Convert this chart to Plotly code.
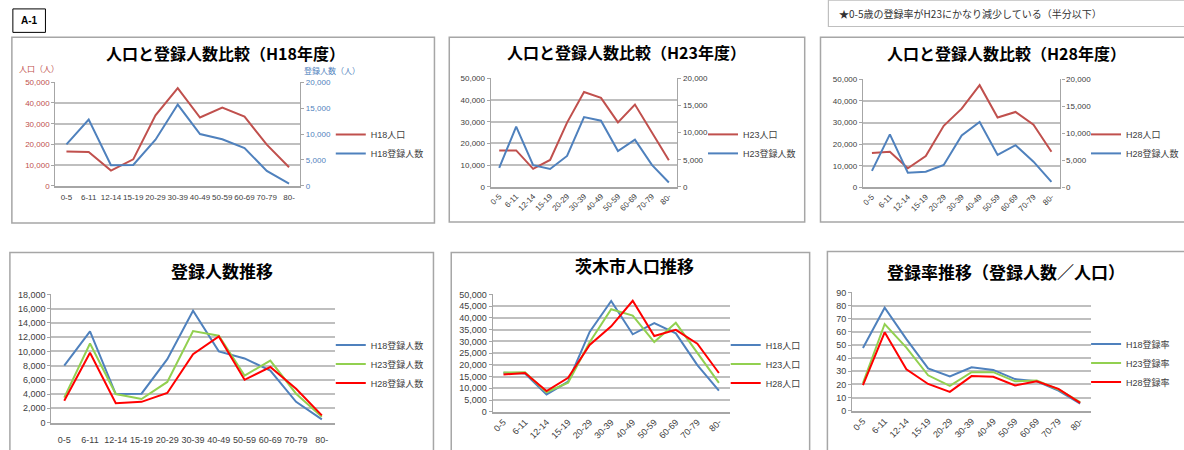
import plotly.graph_objects as go

W, H = 1184, 450

ages = ["0-5", "6-11", "12-14", "15-19", "20-29", "30-39", "40-49", "50-59", "60-69", "70-79", "80-"]

pop_h18 = [16600, 16300, 7400, 12800, 34000, 47200, 33000, 37800, 33400, 19900, 9000]
pop_h23 = [16700, 16800, 8300, 12400, 29600, 43700, 41000, 29700, 37900, 25000, 12300]
pop_h28 = [15900, 16500, 8800, 14500, 28500, 36400, 47300, 32300, 34900, 29000, 16500]

reg_h18 = [8000, 12800, 4000, 4050, 8900, 15700, 10000, 9000, 7300, 2900, 450]
reg_h23 = [3500, 11100, 4000, 3300, 5700, 12850, 12200, 6600, 8700, 4050, 800]
reg_h28 = [3050, 9800, 2700, 2900, 4150, 9600, 12100, 6000, 7800, 4750, 1000]

rate_h18 = [47.8, 78.4, 54.5, 32.3, 26.1, 33.1, 31.1, 24.1, 22.4, 15.4, 5.5]
rate_h23 = [21.0, 66.0, 48.0, 27.0, 19.0, 29.4, 29.4, 22.4, 23.0, 16.2, 6.5]
rate_h28 = [19.5, 59.7, 31.6, 20.4, 14.4, 26.4, 25.9, 19.2, 22.4, 16.7, 6.0]

RED_D = "#C0504D"
BLUE = "#4F81BD"
GREEN = "#92D050"
RED = "#FF0000"
GRID = "#BFBFBF"
LINEC = "#A6A6A6"
TXT = "#404040"
FONT = "Liberation Sans, Noto Sans CJK JP"
JFONT = "Noto Sans CJK JP"


def px(x):
    return x / W


def py(y):
    return 1 - y / H


fig = go.Figure()
layout = {}

# panel geometry: (x0, x1, ytop, ybottom)
panels = {
    1: (54, 302, 79, 185),
    2: (495, 684, 75, 186),
    3: (872, 1072, 76, 186.5),
    4: (50, 337, 296, 427),
    5: (497, 737, 296, 416),
    6: (861, 1103, 294, 415),
}


def add_axes(i, yrange, dtick, tickangle, fs, tickcolor=TXT, y2=None, standoff=0):
    x0, x1, yt, yb = panels[i]
    xname = "xaxis" if i == 1 else f"xaxis{i}"
    yname = "yaxis" if i == 1 else f"yaxis{i}"
    layout[xname] = dict(
        domain=[px(x0), px(x1)], anchor=f"y{i}" if i > 1 else "y",
        type="category", range=[-0.5, 10.5], showgrid=False,
        showline=True, linecolor=LINEC, linewidth=1.5, ticks="",
        tickangle=tickangle, tickfont=dict(family=FONT, size=fs, color=TXT),
        ticklabelstandoff=standoff, fixedrange=True,
    )
    layout[yname] = dict(
        domain=[py(yb), py(yt)], anchor=f"x{i}" if i > 1 else "x",
        range=yrange, dtick=dtick, tickformat=",d", showgrid=True,
        gridcolor=GRID, gridwidth=1.6, zeroline=False, showline=True,
        linecolor=LINEC, linewidth=1.2, ticks="outside", ticklen=3,
        tickcolor=LINEC, tickfont=dict(family=FONT, size=fs, color=tickcolor),
        fixedrange=True,
    )
    if y2 is not None:
        rng, dt, col = y2
        layout[f"yaxis{6 + i}"] = dict(
            domain=[py(yb), py(yt)], anchor=f"x{i}" if i > 1 else "x",
            overlaying=f"y{i}" if i > 1 else "y", side="right",
            range=rng, dtick=dt, tickformat=",d", showgrid=False,
            zeroline=False, showline=True, linecolor=LINEC, linewidth=1.2,
            ticks="outside", ticklen=3, tickcolor=LINEC,
            tickfont=dict(family=FONT, size=fs, color=col), fixedrange=True,
        )


def add_legend(i, text_x, mid_y, n):
    name = "legend" if i == 1 else f"legend{i}"
    first_center = mid_y - (n - 1) * 10
    layout[name] = dict(
        x=px(text_x - 40), y=py(first_center - 16), xanchor="left", yanchor="top",
        bgcolor="rgba(0,0,0,0)", borderwidth=0, tracegroupgap=0,
        font=dict(family=FONT, size=9, color=TXT), itemwidth=30,
    )
    return name


def line(i, y, name, color, legend, secondary=False):
    xa = "x" if i == 1 else f"x{i}"
    if secondary:
        ya = f"y{6 + i}"
    else:
        ya = "y" if i == 1 else f"y{i}"
    fig.add_trace(go.Scatter(
        x=ages, y=y, name=name, mode="lines", xaxis=xa, yaxis=ya,
        line=dict(color=color, width=2), legend=legend,
    ))


# top row
add_axes(1, [0, 50000], 10000, 0, 8, tickcolor=RED_D, y2=([0, 20000], 5000, BLUE), standoff=3)
add_axes(2, [0, 50000], 10000, -45, 8, y2=([0, 20000], 5000, TXT))
add_axes(3, [0, 50000], 10000, -45, 8, y2=([0, 20000], 5000, TXT))
lg1 = add_legend(1, 373, 143.5, 2)
lg2 = add_legend(2, 750, 143.5, 2)
lg3 = add_legend(3, 1138, 143.5, 2)
line(1, pop_h18, "H18人口", RED_D, lg1)
line(1, reg_h18, "H18登録人数", BLUE, lg1, secondary=True)
line(2, pop_h23, "H23人口", RED_D, lg2)
line(2, reg_h23, "H23登録人数", BLUE, lg2, secondary=True)
line(3, pop_h28, "H28人口", RED_D, lg3)
line(3, reg_h28, "H28登録人数", BLUE, lg3, secondary=True)

# bottom row
add_axes(4, [0, 18000], 2000, 0, 9, standoff=8)
add_axes(5, [0, 50000], 5000, -45, 9)
add_axes(6, [0, 90], 10, -45, 9)
lg4 = add_legend(4, 373, 369, 3)
lg5 = add_legend(5, 773, 369, 3)
lg6 = add_legend(6, 1138, 368, 3)
line(4, reg_h18, "H18登録人数", BLUE, lg4)
line(4, reg_h23, "H23登録人数", GREEN, lg4)
line(4, reg_h28, "H28登録人数", RED, lg4)
line(5, pop_h18, "H18人口", BLUE, lg5)
line(5, pop_h23, "H23人口", GREEN, lg5)
line(5, pop_h28, "H28人口", RED, lg5)
line(6, rate_h18, "H18登録率", BLUE, lg6)
line(6, rate_h23, "H23登録率", GREEN, lg6)
line(6, rate_h28, "H28登録率", RED, lg6)

# frames
frames = [
    (10, 33, 438, 223), (453, 33, 813, 222), (829, 33, 1200, 222),
    (8, 253, 437, 470), (455, 253, 818, 470), (836, 252, 1200, 470),
]
shapes = []
for (x0, y0, x1, y1) in frames:
    shapes.append(dict(type="rect", xref="paper", yref="paper",
                       x0=px(x0), x1=px(x1), y0=py(y1), y1=py(y0),
                       line=dict(color="#A6A6A6", width=1.5), layer="below"))
# note box and A-1 box
shapes.append(dict(type="rect", xref="paper", yref="paper",
                   x0=px(837), x1=px(1200), y0=py(22), y1=py(-5),
                   line=dict(color="#BFBFBF", width=1.2)))
shapes.append(dict(type="rect", xref="paper", yref="paper",
                   x0=px(11), x1=px(44), y0=py(28), y1=py(4),
                   line=dict(color="#000000", width=1)))

annotations = []


def ann(text, x, y, size, color="#000000", bold=False, xanchor="center", family=JFONT):
    annotations.append(dict(
        text=f"<b>{text}</b>" if bold else text, x=px(x), y=py(y),
        xref="paper", yref="paper", xanchor=xanchor, yanchor="middle",
        showarrow=False, font=dict(family=family, size=size, color=color),
    ))


ann("人口と登録人数比較（H18年度）", 226, 49, 16, bold=True)
ann("人口と登録人数比較（H23年度）", 633, 48, 16, bold=True)
ann("人口と登録人数比較（H28年度）", 1017, 49, 16, bold=True)
ann("登録人数推移", 223, 272, 17, bold=True)
ann("茨木市人口推移", 641, 266, 17, bold=True)
ann("登録率推移（登録人数／人口）", 1017, 273, 17, bold=True)
ann("人口（人）", 37, 65, 8, color=RED_D)
ann("登録人数（人）", 334, 67, 8, color=BLUE)
ann("A-1", 27.5, 16, 10, bold=True, family=FONT)
ann("★0-5歳の登録率がH23にかなり減少している（半分以下）", 846, 9, 10,
    color="#333333", xanchor="left")

fig.update_layout(
    width=W, height=H, margin=dict(l=0, r=0, t=0, b=0),
    paper_bgcolor="white", plot_bgcolor="white",
    shapes=shapes, annotations=annotations, showlegend=True,
    **layout,
)

fig.write_html("out.html", config={"displayModeBar": False},
               post_script="document.body.style.margin='0';document.body.style.overflow='hidden';")
